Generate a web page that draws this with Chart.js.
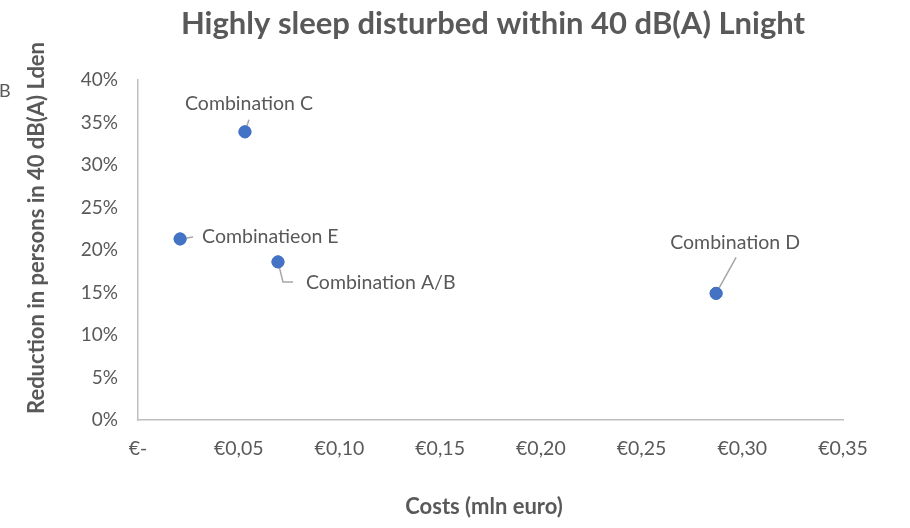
<!DOCTYPE html>
<html>
<head>
<meta charset="utf-8">
<script src="https://cdn.jsdelivr.net/npm/chart.js@4"></script>
<style>
  html, body { margin: 0; padding: 0; background: #fff; }
  #wrap { width: 910px; height: 528px; }
</style>
</head>
<body>
<div id="wrap"><canvas id="chart" width="910" height="528"></canvas></div>
<script>
// Data
const pointNames = ['Combination A/B', 'Combination C', 'Combination D', 'Combinatieon E'];
const costs = [0.0695, 0.0531, 0.287, 0.0209];
const reduction = [0.186, 0.339, 0.149, 0.213];
const xTicks = [0, 0.05, 0.10, 0.15, 0.20, 0.25, 0.30, 0.35];
const xTickLabels = ['€-', '€0,05', '€0,10', '€0,15', '€0,20', '€0,25', '€0,30', '€0,35'];
const yTicks = [0, 0.05, 0.10, 0.15, 0.20, 0.25, 0.30, 0.35, 0.40];

const chartTitle = 'Highly sleep disturbed within 40 dB(A) Lnight';
const xTitle = 'Costs (mln euro)';
const yTitle = 'Reduction in persons in 40 dB(A) Lden';

const FONT = 'Lato, "Liberation Sans", sans-serif';
const TEXT = '#595959';

// label placement relative to each point (pixels): text anchor + leader line path
const labelLayout = {
    'Combination A/B': { tx: 28, ty: 21, align: 'left', leader: [[0, 0], [5, 20], [15, 20]] },
    'Combination C': { tx: 4, ty: -28, align: 'center', leader: [[0, 0], [4, -12]] },
    'Combination D': { tx: 19, ty: -51, align: 'center', leader: [[0, 0], [20, -36]] },
    'Combinatieon E': { tx: 22, ty: -2, align: 'left', leader: [[0, 0], [13, -2]] }
};

// Helper plugin: titles and data labels
const decorations = {
    id: 'decorations',
    afterDatasetsDraw(chart) {
        const ctx = chart.ctx;
        const meta = chart.getDatasetMeta(0);
        ctx.save();

        // leader lines + labels
        meta.data.forEach((el, i) => {
            const lay = labelLayout[pointNames[i]];
            ctx.strokeStyle = '#A6A6A6';
            ctx.lineWidth = 1.5;
            ctx.beginPath();
            lay.leader.forEach(([dx, dy], j) => {
                if (j === 0) ctx.moveTo(el.x + dx, el.y + dy);
                else ctx.lineTo(el.x + dx, el.y + dy);
            });
            ctx.stroke();
        });
        // redraw points on top of leader start
        meta.data.forEach(el => el.draw(ctx));

        ctx.fillStyle = TEXT;
        ctx.font = '19.5px ' + FONT;
        ctx.textBaseline = 'middle';
        meta.data.forEach((el, i) => {
            const lay = labelLayout[pointNames[i]];
            ctx.textAlign = lay.align;
            ctx.fillText(pointNames[i], el.x + lay.tx, el.y + lay.ty);
        });

        // chart title
        ctx.font = 'bold 31px ' + FONT;
        ctx.textAlign = 'center';
        ctx.fillText(chartTitle, 493, 24);

        // axis titles
        ctx.font = 'bold 22px ' + FONT;
        ctx.fillText(xTitle, 484, 507);
        ctx.save();
        ctx.translate(37, 228);
        ctx.rotate(-Math.PI / 2);
        ctx.fillText(yTitle, 0, 0);
        ctx.restore();

        // clipped fragment at the left edge
        ctx.font = '18px ' + FONT;
        ctx.textAlign = 'left';
        ctx.fillText('B', -1, 91);

        ctx.restore();
    }
};

new Chart(document.getElementById('chart'), {
    type: 'scatter',
    data: {
        datasets: [{
            label: 'Combinations',
            data: costs.map((c, i) => ({ x: c, y: reduction[i] })),
            backgroundColor: '#4472C4',
            borderColor: '#4472C4',
            pointRadius: 6,
            pointHoverRadius: 6
        }]
    },
    options: {
        responsive: false,
        animation: false,
        layout: { padding: { left: 0, top: 80, right: 67, bottom: 0 } },
        plugins: {
            legend: { display: false },
            tooltip: { enabled: false }
        },
        scales: {
            x: {
                type: 'linear',
                min: 0,
                max: 0.35,
                afterBuildTicks: (scale) => { scale.ticks = xTicks.map(v => ({ value: v })); },
                afterFit: (scale) => { scale.height = 108; },
                grid: { display: false },
                border: { display: true, color: '#BFBFBF', width: 1.5 },
                ticks: {
                    color: TEXT,
                    font: { family: FONT, size: 19.5 },
                    padding: 9,
                    maxRotation: 0,
                    callback: (v) => {
                        const idx = xTicks.findIndex(t => Math.abs(t - v) < 1e-9);
                        return idx >= 0 ? xTickLabels[idx] : '';
                    }
                }
            },
            y: {
                type: 'linear',
                min: 0,
                max: 0.40,
                afterBuildTicks: (scale) => { scale.ticks = yTicks.map(v => ({ value: v })); },
                afterFit: (scale) => { scale.width = 138; },
                grid: { display: false },
                border: { display: true, color: '#BFBFBF', width: 1.5 },
                ticks: {
                    color: TEXT,
                    font: { family: FONT, size: 19 },
                    padding: 12,
                    callback: (v) => Math.round(v * 100) + '%'
                }
            }
        }
    },
    plugins: [decorations]
});
</script>
</body>
</html>
